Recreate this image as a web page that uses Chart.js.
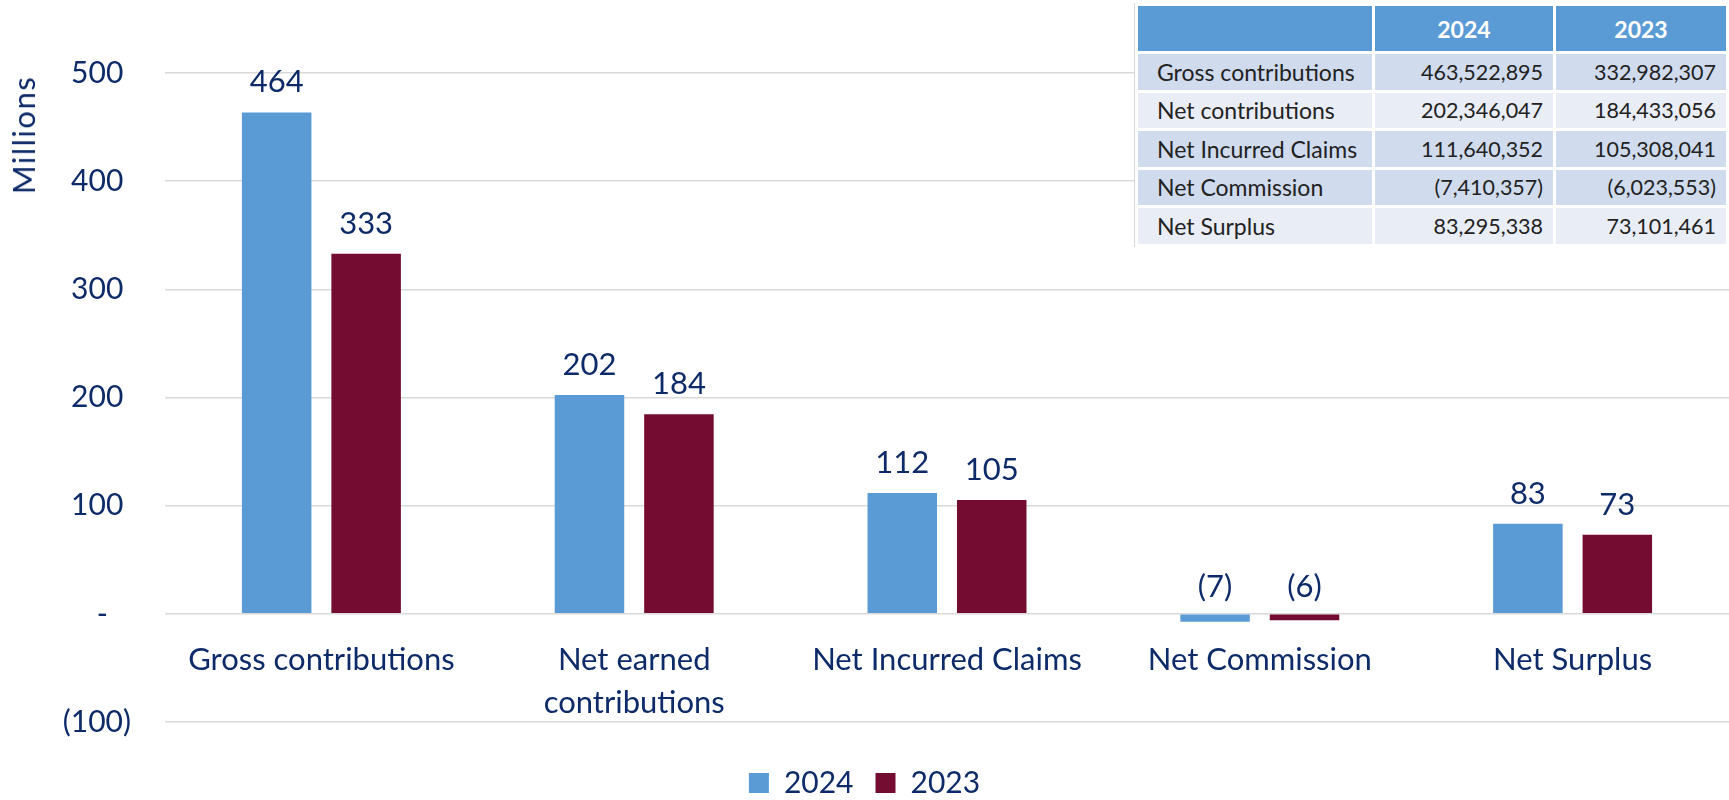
<!DOCTYPE html>
<html>
<head>
<meta charset="utf-8">
<title>Contributions 2024 vs 2023</title>
<script src="https://cdn.jsdelivr.net/npm/chart.js@4.4.1/dist/chart.umd.min.js"></script>
<style>
  html, body { margin: 0; padding: 0; background: #fff; overflow: hidden; }
  #wrap { position: relative; width: 1729px; height: 800px; }
  #axisTitle {
    position: absolute; left: 23px; top: 135px;
    transform: translate(-50%, -50%) rotate(-90deg);
    font: 31px Lato; letter-spacing: 1.5px; color: #0e2b69; white-space: nowrap;
  }
  #summary {
    position: absolute; left: 1134px; top: 3px;
    border-collapse: separate; border-spacing: 3px;
    background: #fff; font: 21.5px Lato; color: #222;
    border-left: 1px solid #d6d6d6;
  }
  #summary td, #summary th { box-sizing: border-box; padding: 0; white-space: nowrap; }
  #summary th { height: 45px; background: #5b9bd5; color: #fff; font-size: 23px; font-weight: bold; text-align: center; }
  #summary td { height: 35.5px; }
  #summary td.name { width: 235px; padding-left: 19px; text-align: left; font-size: 23px; }
  #summary td.num { padding-right: 10px; text-align: right; }
  #summary td.c2 { width: 182px; }
  #summary td.c3 { width: 173px; }
  #summary tr.dark td { background: #d0dbee; }
  #summary tr.light td { background: #e9edf6; }
</style>
</head>
<body>
<div id="wrap">
  <canvas id="chart" width="1729" height="800"></canvas>
  <div id="axisTitle">Millions</div>
  <table id="summary"></table>
</div>
<script>
const categories = ['Gross contributions', ['Net earned', 'contributions'], 'Net Incurred Claims', 'Net Commission', 'Net Surplus'];
const tableRowNames = ['Gross contributions', 'Net contributions', 'Net Incurred Claims', 'Net Commission', 'Net Surplus'];
const seriesNames = ['2024', '2023'];
const values2024 = [463522895, 202346047, 111640352, -7410357, 83295338];
const values2023 = [332982307, 184433056, 105308041, -6023553, 73101461];
const rowShades = ['dark', 'light', 'dark', 'dark', 'light'];
const yMin = -100;
const yMax = 500;
const yStep = 100;

const navy = '#0e2b69';
const blue = '#5b9bd5';
const maroon = '#730c30';

// summary table in the top right corner
const fmt = n => n < 0 ? `(${Math.abs(n).toLocaleString('en-US')})` : n.toLocaleString('en-US');
const table = document.getElementById('summary');
let html = `<tr><th></th><th>${seriesNames[0]}</th><th>${seriesNames[1]}</th></tr>`;
tableRowNames.forEach((name, i) => {
  html += `<tr class="${rowShades[i]}"><td class="name">${name}</td>` +
    `<td class="num c2">${fmt(values2024[i])}</td><td class="num c3">${fmt(values2023[i])}</td></tr>`;
});
table.innerHTML = html;

const valueLabels = {
  id: 'valueLabels',
  afterDatasetsDraw(chart) {
    const ctx = chart.ctx;
    const zero = chart.scales.y.getPixelForValue(0);
    ctx.save();
    ctx.font = '31px Lato';
    ctx.fillStyle = navy;
    ctx.textAlign = 'center';
    ctx.textBaseline = 'alphabetic';
    chart.data.datasets.forEach((ds, i) => {
      chart.getDatasetMeta(i).data.forEach((bar, j) => {
        const v = ds.data[j];
        const txt = v < 0 ? `(${Math.round(-v)})` : String(Math.round(v));
        const y = v < 0 ? zero - 17 : bar.y - 20;
        ctx.fillText(txt, bar.x, y);
      });
    });
    ctx.restore();
  }
};

// keep the legend in a fixed band under the plot
const legendBand = {
  id: 'legendBand',
  afterInit(chart) {
    const legend = chart.legend;
    const fit = legend.fit;
    legend.fit = function () {
      fit.call(this);
      this.height = 78;
    };
  }
};

new Chart(document.getElementById('chart'), {
  type: 'bar',
  data: {
    labels: categories,
    datasets: [{
      label: seriesNames[0],
      data: values2024.map(v => v / 1e6),
      backgroundColor: blue,
      borderWidth: 0,
      categoryPercentage: 0.572,
      barPercentage: 0.777
    }, {
      label: seriesNames[1],
      data: values2023.map(v => v / 1e6),
      backgroundColor: maroon,
      borderWidth: 0,
      categoryPercentage: 0.572,
      barPercentage: 0.777
    }]
  },
  options: {
    responsive: false,
    animation: false,
    devicePixelRatio: 1,
    layout: { padding: { top: 73, left: 0, right: 0, bottom: 0 } },
    scales: {
      x: {
        position: { y: 0 },
        grid: { display: false, drawTicks: false },
        border: { display: false },
        ticks: {
          autoSkip: false,
          maxRotation: 0,
          padding: 25,
          color: navy,
          font: { family: 'Lato', size: 31, lineHeight: 1.38 }
        }
      },
      y: {
        min: yMin,
        max: yMax,
        afterFit(scale) { scale.width = 165; },
        grid: { color: '#d9d9d9', lineWidth: 1.5, drawTicks: false },
        border: { display: false },
        ticks: {
          stepSize: yStep,
          padding: 34,
          color: navy,
          font: { family: 'Lato', size: 30 },
          callback: v => v === 0 ? '-   ' : v < 0 ? `(${-v})` : `${v} `
        }
      }
    },
    plugins: {
      legend: {
        position: 'bottom',
        title: { display: true, text: '', font: { size: 20 }, padding: 0 },
        labels: {
          boxWidth: 20,
          boxHeight: 20,
          padding: 22,
          color: navy,
          font: { family: 'Lato', size: 30 }
        }
      },
      tooltip: { enabled: false }
    }
  },
  plugins: [valueLabels, legendBand]
});
</script>
</body>
</html>
